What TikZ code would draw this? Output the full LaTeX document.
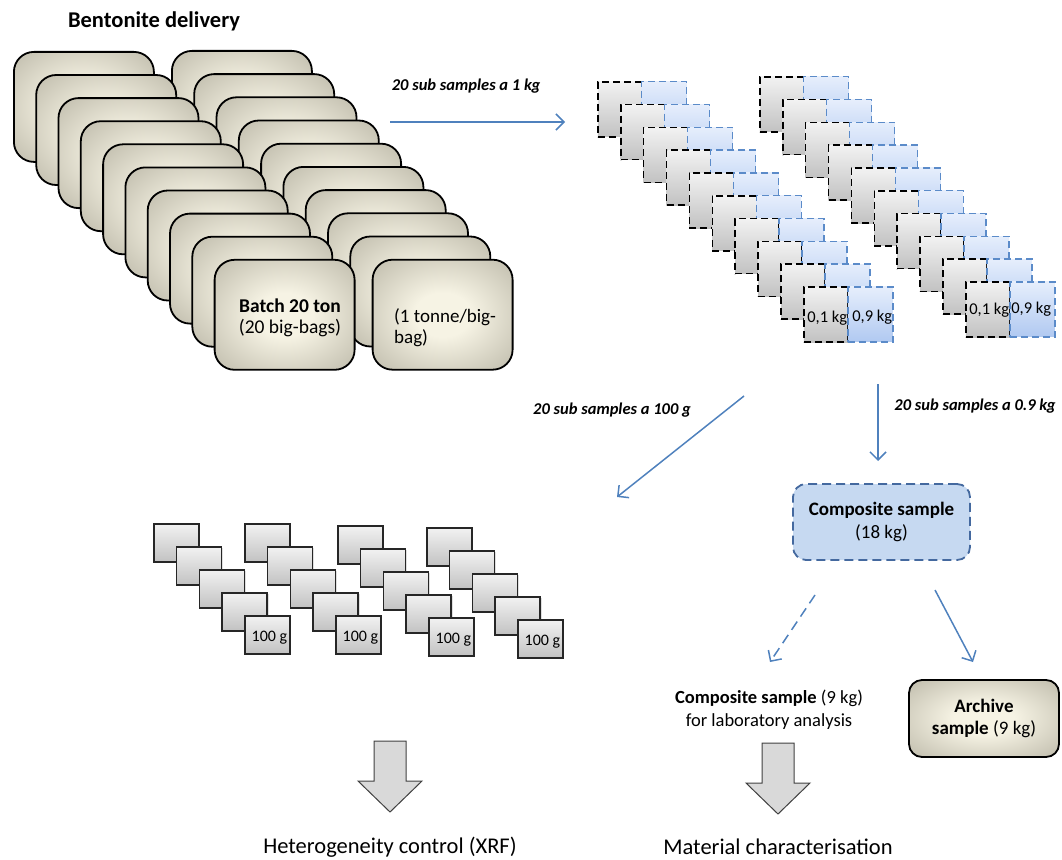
\documentclass[tikz,border=0pt]{standalone}
\usepackage{fontspec}
\setmainfont{Carlito}
\usetikzlibrary{arrows.meta,calc,shadows}
\definecolor{bagin}{HTML}{F6F3E4}
\definecolor{bagout}{HTML}{8B8776}
\definecolor{arrowblue}{HTML}{4F81BD}
\definecolor{dashblue}{HTML}{5B8BC9}
\definecolor{compfill}{HTML}{C6D9F1}
\definecolor{compline}{HTML}{44699F}
\definecolor{graytop}{HTML}{F2F2F2}
\definecolor{graybot}{HTML}{C2C2C2}
\definecolor{bluetop}{HTML}{E6EEFC}
\definecolor{bluebot}{HTML}{B0C9F1}
\pgfdeclareradialshading{bagshade}{\pgfpoint{0bp}{0bp}}{color(0bp)=(bagin); color(10bp)=(bagin); color(60bp)=(bagout); color(80bp)=(bagout)}
\begin{document}
\begin{tikzpicture}[x=1pt,y=-1pt,
  bag/.style={draw=black, line width=1.8pt, rounded corners=20pt, shading=bagshade,
    minimum width=140pt, minimum height=110pt, inner sep=0pt, anchor=north west},
  subgray/.style={draw=black, line width=1.6pt, dash pattern=on 7pt off 4pt,
    top color=graytop, bottom color=graybot, minimum width=44pt, minimum height=55pt,
    inner sep=0pt, anchor=north west},
  subblue/.style={draw=dashblue, line width=1.4pt, dash pattern=on 7pt off 4pt,
    top color=bluetop, bottom color=bluebot, minimum width=45pt, minimum height=55pt,
    inner sep=0pt, anchor=north west},
  hbox/.style={draw=black!85, line width=1.5pt, top color=graytop, bottom color=graybot,
    minimum width=45pt, minimum height=38pt, inner sep=0pt, anchor=north west,
    drop shadow={opacity=0.25, shadow xshift=1.5pt, shadow yshift=-1.5pt}},
  lbl/.style={font=\fontsize{16.5}{19}\selectfont\bfseries\itshape, inner sep=0pt},
  flow/.style={draw=arrowblue, line width=1.5pt, -{Straight Barb[length=8pt,width=16pt]}},
  blockarrow/.style={draw=black!75, fill=black!15, line width=1pt},
  txt/.style={inner sep=0pt, align=center}
]
\useasboundingbox (0,0) rectangle (1062,859);

% title
\node[txt, font=\fontsize{22.5}{26}\selectfont\bfseries] (title) at (154,21) {Bentonite delivery};

% big bags: right column first (behind), then left column
\foreach \i in {0,...,9} {
  \node[bag] (br\i) at ({171+22.3*\i},{50+23.2*\i}) {};
}
\foreach \i in {0,...,9} {
  \node[bag] (bl\i) at ({13+22.3*\i},{51+23.1*\i}) {};
}
\node[txt, font=\fontsize{19.5}{21}\selectfont] (tbatch) at (290,318) {\textbf{Batch 20 ton}\\(20 big-bags)};
\node[inner sep=0pt, align=left, anchor=west, font=\fontsize{19}{21}\selectfont] (ttonne) at (394,328) {(1 tonne/big-\\bag)};

% arrow 1
\coordinate (a1s) at (390,122);
\coordinate (a1e) at (565,122);
\draw[flow] (a1s) -- (a1e);
\node[lbl] (l1) at (466,86) {20 sub samples a 1 kg};

% sub samples
\foreach \i in {0,...,9} {
  \node[subgray] (gl\i) at ({597+22.9*\i},{81+22.8*\i}) {};
  \node[subblue] (ul\i) at ({641+22.9*\i},{81+22.8*\i}) {};
}
\foreach \i in {0,...,9} {
  \node[subgray] (gr\i) at ({759+22.9*\i},{76+22.8*\i}) {};
  \node[subblue] (ur\i) at ({803+22.9*\i},{76+22.8*\i}) {};
}
\node[inner sep=0pt, anchor=west, font=\fontsize{16.5}{18}\selectfont] (kl1) at ($(gl9.south west)+(4,-25)$) {0,1 kg};
\node[inner sep=0pt, anchor=west, font=\fontsize{16.5}{18}\selectfont] (kl9) at ($(ul9.south west)+(5,-25)$) {0,9 kg};
\node[inner sep=0pt, anchor=west, font=\fontsize{16.5}{18}\selectfont] (kr1) at ($(gr9.south west)+(4,-28)$) {0,1 kg};
\node[inner sep=0pt, anchor=west, font=\fontsize{16.5}{18}\selectfont] (kr9) at ($(ur9.south west)+(2,-28)$) {0,9 kg};

% arrows to the second row
\coordinate (a2s) at (744,396);
\coordinate (a2e) at (617,497);
\draw[flow] (a2s) -- (a2e);
\node[lbl] (l2) at (612,410) {20 sub samples a 100 g};
\coordinate (a3s) at (878,384);
\coordinate (a3e) at (878,461);
\draw[flow] (a3s) -- (a3e);
\node[lbl] (l3) at (975,406) {20 sub samples a 0.9 kg};

% 100 g boxes
\foreach \g/\gx/\gy in {0/153/523, 1/244/523, 2/337/525, 3/426/527} {
  \foreach \j in {0,...,4} {
    \node[hbox] (h\g\j) at ({\gx+22.8*\j},{\gy+23*\j}) {};
  }
  \node[inner sep=0pt, font=\fontsize{16}{18}\selectfont] (ht\g) at ($(h\g4.center)+(2,3)$) {100 g};
}

% composite sample
\node[txt, draw=compline, line width=1.8pt, dash pattern=on 9pt off 5pt, fill=compfill,
  rounded corners=13pt, minimum width=177pt, minimum height=76pt,
  font=\fontsize{19}{23}\selectfont] (comp) at (881.5,522) {\textbf{Composite sample}\\(18 kg)};

\coordinate (a4s) at (815,595);
\coordinate (a4e) at (770,662);
\draw[flow, dash pattern=on 10pt off 6pt] (a4s) -- (a4e);
\coordinate (a5s) at (935,590);
\coordinate (a5e) at (973,662);
\draw[flow] (a5s) -- (a5e);

\node[txt, font=\fontsize{18.5}{23}\selectfont] (comp9) at (769,710) {\textbf{Composite sample} (9 kg)\\for laboratory analysis};

\node[txt, draw=black, line width=1.8pt, rounded corners=13pt, shading=bagshade,
  minimum width=150pt, minimum height=77pt, font=\fontsize{19}{22}\selectfont] (arch) at (984,718.5)
  {\textbf{Archive}\\\textbf{sample} (9 kg)};

% block arrows
\coordinate (b1) at (390,741);
\draw[blockarrow] (b1) ++(-16,0) -- ++(32,0) -- ++(0,40) -- ++(16,0) -- ++(-32,31) -- ++(-32,-31) -- ++(16,0) -- cycle;
\coordinate (b2) at (778,743);
\draw[blockarrow] (b2) ++(-16,0) -- ++(32,0) -- ++(0,40) -- ++(16,0) -- ++(-32,31) -- ++(-32,-31) -- ++(16,0) -- cycle;

\node[txt, font=\fontsize{22.5}{26}\selectfont] (het) at (390,847) {Heterogeneity control (XRF)};
\node[txt, font=\fontsize{22.5}{26}\selectfont] (mat) at (778,847) {Material characterisation};
\end{tikzpicture}
\end{document}
